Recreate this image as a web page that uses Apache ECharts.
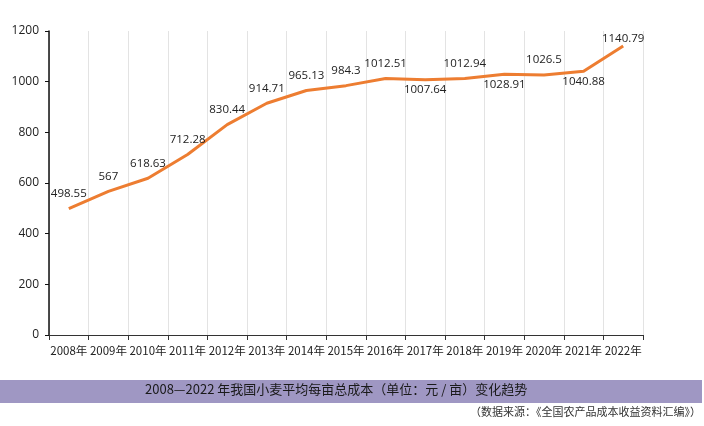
<!DOCTYPE html>
<html>
<head>
<meta charset="utf-8">
<script src="https://cdn.jsdelivr.net/npm/echarts@6/dist/echarts.min.js"></script>
<style>
html,body{margin:0;padding:0;background:#fff;}
#chart{width:704px;height:426px;}
</style>
</head>
<body>
<div id="chart"></div>
<script>
var categories = ['2008年','2009年','2010年','2011年','2012年','2013年','2014年','2015年','2016年','2017年','2018年','2019年','2020年','2021年','2022年'];
var values = [498.55, 567, 618.63, 712.28, 830.44, 914.71, 965.13, 984.3, 1012.51, 1007.64, 1012.94, 1028.91, 1026.5, 1040.88, 1140.79];
var labelsBelow = ['2017年', '2019年', '2021年'];
var labelsClose = ['2022年'];
var yTicks = { min: 0, max: 1200, interval: 200 };
var titleText = '2008—2022 年我国小麦平均每亩总成本（单位：元 / 亩）变化趋势';
var sourceText = '（数据来源：《全国农产品成本收益资料汇编》）';

var seriesData = values.map(function (v, i) {
  var below = labelsBelow.indexOf(categories[i]) >= 0;
  var close = labelsClose.indexOf(categories[i]) >= 0;
  return { value: v, label: { position: below ? 'bottom' : 'top', distance: below ? 4 : (close ? 1 : 9) } };
});

var chart = echarts.init(document.getElementById('chart'), null, { renderer: 'canvas' });
chart.setOption({
  animation: false,
  backgroundColor: '#ffffff',
  textStyle: { fontFamily: '"Noto Sans CJK SC", "Noto Sans", sans-serif' },
  grid: { left: 49, right: 61, top: 31, bottom: 91, containLabel: false },
  xAxis: {
    type: 'category',
    data: categories,
    boundaryGap: true,
    axisLine: { show: true, lineStyle: { color: '#333', width: 1.2 } },
    axisTick: { show: true, length: 5, lineStyle: { color: '#333' } },
    axisLabel: { interval: 0, color: '#222', fontSize: 11.5, margin: 10,
      fontFamily: '"Noto Sans CJK SC", sans-serif' },
    splitLine: { show: true, lineStyle: { color: '#e3e3e3', width: 1 } }
  },
  yAxis: {
    type: 'value',
    min: yTicks.min, max: yTicks.max, interval: yTicks.interval,
    axisLine: { show: true, lineStyle: { color: '#111', width: 1.5 } },
    axisTick: { show: true, length: 4, lineStyle: { color: '#111' } },
    axisLabel: { color: '#222', fontSize: 12, margin: 10, fontFamily: '"Open Sans", "Noto Sans", sans-serif',
      formatter: function (v) { return String(v); } },
    splitLine: { show: false }
  },
  series: [{
    type: 'line',
    data: seriesData,
    smooth: false,
    showSymbol: true,
    symbol: 'circle',
    symbolSize: 0.1,
    lineStyle: { color: '#ED7D31', width: 3, join: 'round' },
    itemStyle: { color: '#ED7D31' },
    label: { show: true, color: '#222', fontSize: 11.5, fontFamily: '"Open Sans", "Noto Sans", sans-serif' }
  }],
  graphic: [
    { type: 'rect', left: 0, top: 380, shape: { width: 702, height: 23 }, style: { fill: '#9f97c3' }, silent: true },
    { type: 'text', left: 145, top: 383, style: { text: titleText, fill: '#1a1a1a', fontSize: 13,
      fontFamily: '"Noto Sans CJK SC", sans-serif' } },
    { type: 'text', right: 3, top: 406, style: { text: sourceText, fill: '#333', fontSize: 11,
      fontFamily: '"Noto Sans CJK SC", sans-serif' } }
  ]
});
</script>
</body>
</html>
